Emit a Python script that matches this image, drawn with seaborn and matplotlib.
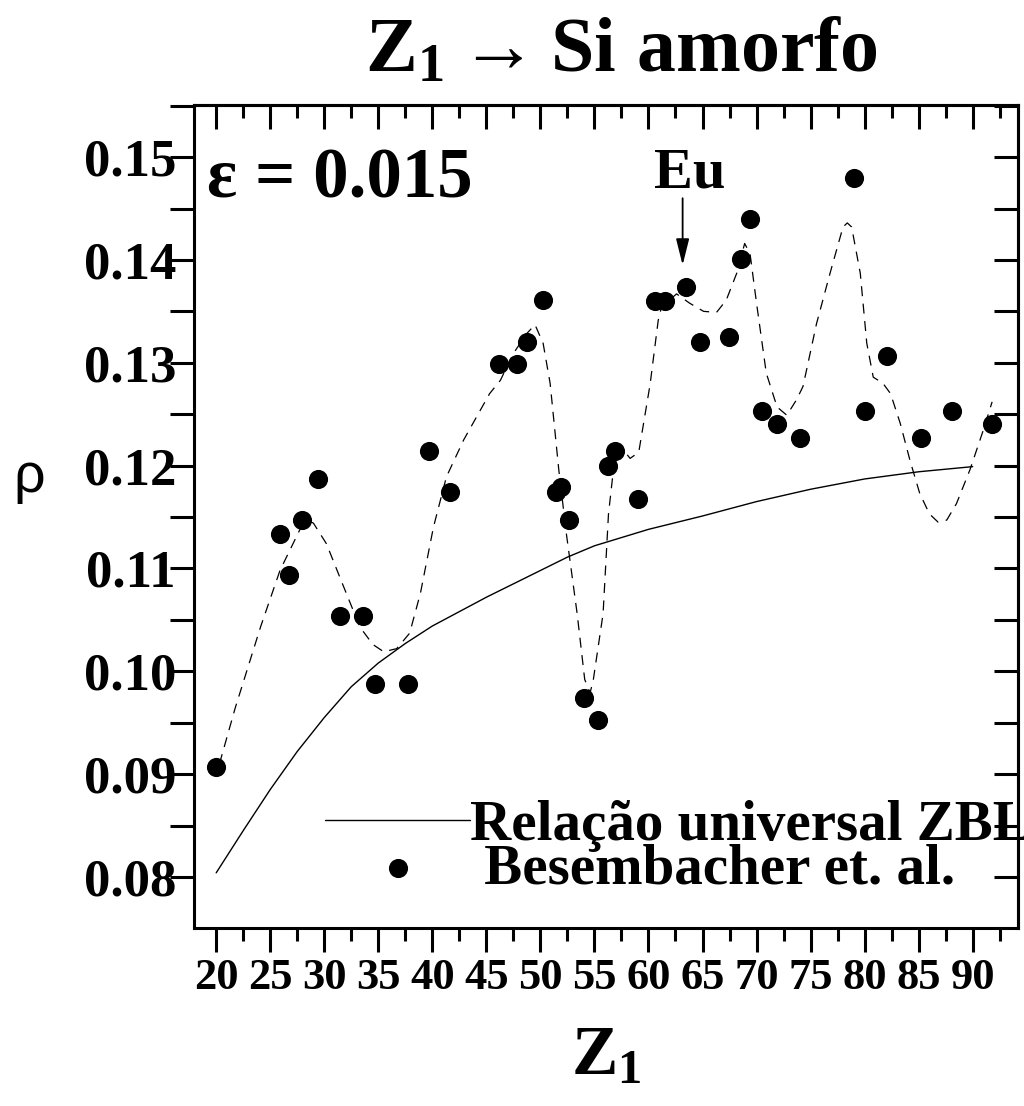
import matplotlib
matplotlib.use("Agg")
import matplotlib.pyplot as plt
import seaborn as sns
import numpy as np
import pandas as pd
from matplotlib.ticker import MultipleLocator, FixedLocator

# ---------------- data ----------------
z_exp = [20.0, 25.92, 26.78, 27.98, 29.41, 31.41, 33.60, 34.71, 37.76, 39.73,
         41.67, 46.18, 47.87, 48.80, 50.28, 51.42, 51.89, 52.68, 54.01, 55.34,
         56.23, 56.91, 59.07, 60.61, 61.54, 63.48, 64.77, 67.43, 68.57, 69.40,
         70.48, 71.87, 74.05, 79.05, 80.07, 82.10, 85.22, 88.06, 91.81]
rho_exp = [0.0907, 0.1133, 0.1094, 0.1147, 0.1187, 0.1054, 0.1054, 0.0988, 0.0988, 0.1214,
           0.1174, 0.1299, 0.1299, 0.1320, 0.1361, 0.1174, 0.1179, 0.1147, 0.0974, 0.0953,
           0.1200, 0.1214, 0.1168, 0.1360, 0.1360, 0.1374, 0.1320, 0.1325, 0.1401, 0.1440,
           0.1253, 0.1240, 0.1227, 0.1480, 0.1253, 0.1307, 0.1227, 0.1253, 0.1240]

z_zbl = [20, 22.5, 25, 27.5, 30, 32.5, 35, 37.5, 40, 42.5, 45, 47.5, 50, 52.5, 55,
         60, 65, 70, 75, 80, 85, 90]
rho_zbl = [0.0804, 0.0845, 0.0885, 0.0922, 0.0955, 0.0985, 0.1008, 0.1027, 0.1044, 0.1058,
           0.1072, 0.1085, 0.1098, 0.1111, 0.1122, 0.1138, 0.1151, 0.1165, 0.1177, 0.1187,
           0.1194, 0.1199]

z_fit = [20.3, 21.75, 24.1, 25.9, 27.8, 28.6, 29.0, 30.2, 31.8, 33.3, 34.5, 35.5, 36.7,
         37.9, 38.9, 40.1, 41.3, 42.9, 45.3, 46.3, 47.5, 48.7, 49.5, 50.25, 50.9, 51.7,
         52.4, 53.4, 54.1, 54.6, 54.9, 55.8, 56.3, 56.8, 57.2, 57.7, 58.3, 59.1, 59.8,
         60.15, 60.9, 61.2, 62.6, 63.8, 65.1, 66.3, 67.2, 68.2, 68.9, 69.4, 70.0, 70.9,
         71.9, 72.8, 73.7, 74.3, 75.55, 76.8, 78.0, 78.4, 78.8, 79.6, 80.2, 80.8, 81.7,
         82.4, 83.3, 84.2, 85.1, 86.0, 86.8, 87.6, 88.5, 89.75, 91.0, 91.8]
rho_fit = [0.0910, 0.0964, 0.1043, 0.1098, 0.1139, 0.1146, 0.1144, 0.1124, 0.1082, 0.1043,
           0.1026, 0.1019, 0.1022, 0.1037, 0.1076, 0.1140, 0.1189, 0.1225, 0.1270, 0.1283,
           0.1309, 0.1328, 0.1337, 0.1319, 0.1280, 0.1196, 0.1134, 0.1056, 0.0992, 0.0979,
           0.0992, 0.1056, 0.1153, 0.1200, 0.1217, 0.1215, 0.1207, 0.1213, 0.1257, 0.1279,
           0.1341, 0.1354, 0.1367, 0.1358, 0.1350, 0.1349, 0.1361, 0.1388, 0.1416, 0.1406,
           0.1358, 0.1290, 0.1257, 0.1249, 0.1264, 0.1277, 0.1338, 0.1387, 0.1432, 0.1436,
           0.1432, 0.1387, 0.1319, 0.1286, 0.1280, 0.1270, 0.1241, 0.1205, 0.1173, 0.1153,
           0.1145, 0.1147, 0.1163, 0.1196, 0.1235, 0.1262]

x_ticks = [20, 25, 30, 35, 40, 45, 50, 55, 60, 65, 70, 75, 80, 85, 90]
y_ticks = [0.08, 0.09, 0.10, 0.11, 0.12, 0.13, 0.14, 0.15]

label_zbl = "Relação universal ZBL"
label_exp = " Besembacher et. al."

# ---------------- style ----------------
sns.set_style("ticks")
plt.rcParams["font.family"] = ["Liberation Serif", "DejaVu Serif"]
plt.rcParams["font.weight"] = "bold"
plt.rcParams["mathtext.fontset"] = "custom"
plt.rcParams["mathtext.rm"] = "Liberation Serif:bold"
plt.rcParams["mathtext.bf"] = "Liberation Serif:bold"
plt.rcParams["mathtext.it"] = "Liberation Serif:bold"
plt.rcParams["axes.edgecolor"] = "black"
plt.rcParams["text.color"] = "black"
plt.rcParams["axes.labelcolor"] = "black"
plt.rcParams["xtick.color"] = "black"
plt.rcParams["ytick.color"] = "black"

fig = plt.figure(figsize=(10.24, 11.06), dpi=100)
ax = fig.add_axes([0.1895, 0.161, 0.8047, 0.744])

df_exp = pd.DataFrame({"Z": z_exp, "rho": rho_exp})
df_zbl = pd.DataFrame({"Z": z_zbl, "rho": rho_zbl})
df_fit = pd.DataFrame({"Z": z_fit, "rho": rho_fit})

sns.lineplot(data=df_fit, x="Z", y="rho", ax=ax, color="black", lw=0.9,
             linestyle=(0, (8, 6)), sort=False, estimator=None, zorder=2)
sns.lineplot(data=df_zbl, x="Z", y="rho", ax=ax, color="black", lw=1.0,
             sort=False, estimator=None, label=label_zbl, zorder=2)
sns.scatterplot(data=df_exp, x="Z", y="rho", ax=ax, color="black", s=190,
                linewidth=0, label=label_exp, zorder=3)

ax.set_xlim(17.95, 94.2)
ax.set_ylim(0.07504, 0.15506)

for sp in ax.spines.values():
    sp.set_linewidth(2.2)
    sp.set_visible(True)
    sp.set_color("black")

ax.xaxis.set_major_locator(FixedLocator(x_ticks))
ax.xaxis.set_minor_locator(MultipleLocator(2.5))
ax.yaxis.set_major_locator(FixedLocator(y_ticks))
ax.yaxis.set_minor_locator(MultipleLocator(0.005))
ax.set_xticklabels([str(v) for v in x_ticks])
ax.set_yticklabels([f"{v:.2f}" for v in y_ticks])

ax.tick_params(axis="x", which="major", direction="out", length=17, width=2.2,
               labelsize=32, pad=5)
ax.tick_params(axis="x", which="minor", direction="out", length=9, width=2.2)
ax.tick_params(axis="y", which="both", direction="out", length=17, width=2.2,
               labelsize=38, pad=-4)

secx = ax.secondary_xaxis("top")
secx.xaxis.set_major_locator(FixedLocator(x_ticks))
secx.xaxis.set_minor_locator(MultipleLocator(2.5))
secx.tick_params(axis="x", which="major", direction="in", length=17, width=2.2, labeltop=False)
secx.tick_params(axis="x", which="minor", direction="in", length=9, width=2.2)
secx.spines["top"].set_linewidth(2.2)

secy = ax.secondary_yaxis("right")
secy.yaxis.set_major_locator(FixedLocator(y_ticks))
secy.yaxis.set_minor_locator(MultipleLocator(0.005))
secy.tick_params(axis="y", which="both", direction="in", length=17, width=2.2, labelright=False)
secy.spines["right"].set_linewidth(2.2)

ax.set_xlabel(r"$\mathbf{Z_1}$", fontsize=50, labelpad=20)
ax.set_ylabel("ρ", fontsize=40, family="Liberation Sans", fontweight="normal",
              rotation=0, labelpad=0)
ax.yaxis.set_label_coords(-0.2, 0.515)

fig.text(0.607, 0.936, r"$\mathbf{Z_1} \rightarrow \mathbf{Si\ amorfo}$",
         ha="center", va="baseline", fontsize=56)

ax.text(0.016, 0.888, "ε = 0.015", transform=ax.transAxes, fontsize=51,
        fontweight="bold", ha="left", va="baseline")

ax.text(63.85, 0.1470, "Eu", fontsize=42, fontweight="bold", ha="center", va="baseline")
ax.annotate("", xy=(63.16, 0.1395), xytext=(63.16, 0.1460),
            arrowprops=dict(arrowstyle="-|>,head_length=0.8,head_width=0.2",
                            mutation_scale=20, color="black", lw=1.3,
                            shrinkA=0, shrinkB=0))

leg = ax.legend(loc="lower left", bbox_to_anchor=(0.159, 0.040), frameon=False,
                fontsize=41, handlelength=2.55, handletextpad=0.0, borderpad=0,
                borderaxespad=0, labelspacing=-0.15, markerscale=1.0)

fig.savefig("out.png", dpi=100)
